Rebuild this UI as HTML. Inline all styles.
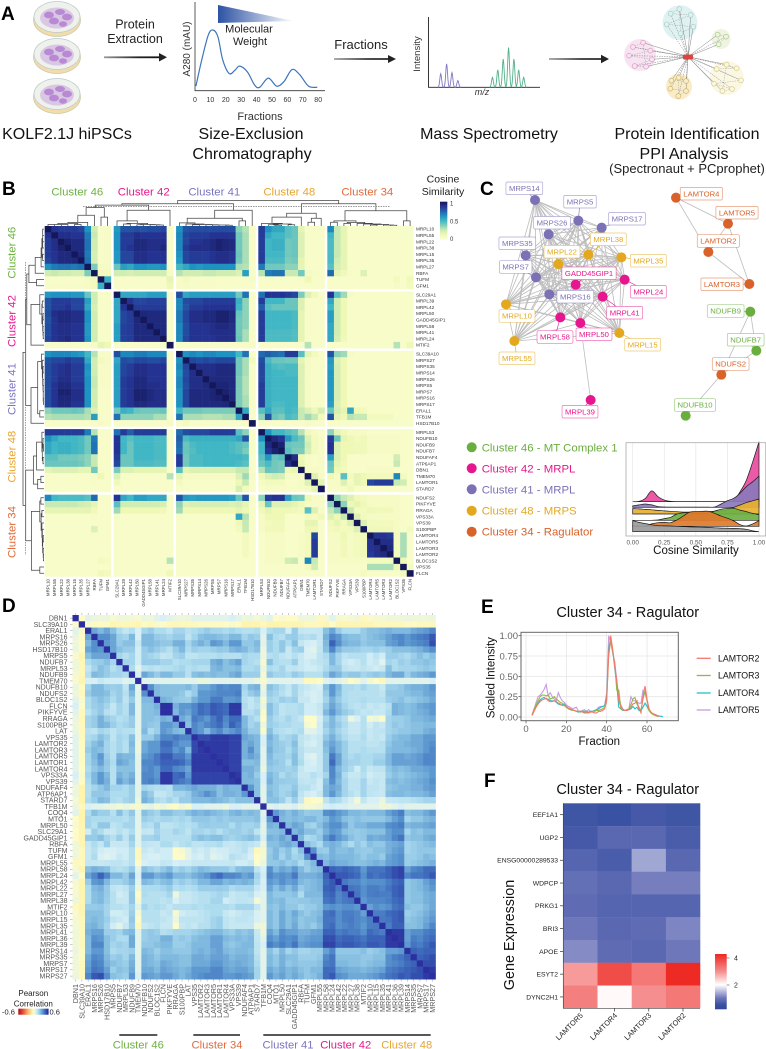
<!DOCTYPE html>
<html lang="en">
<head>
<meta charset="utf-8">
<title>Cluster analysis figure</title>
<style>
html,body{margin:0;padding:0;background:#fff;}
svg{display:block;font-family:"Liberation Sans",sans-serif;}
.panel{font-weight:bold;font-size:19px;fill:#000;}
.step{font-size:16px;fill:#111;text-anchor:middle;}
.note{font-size:12.5px;fill:#222;text-anchor:middle;}
</style>
</head>
<body>
<svg id="figure" xmlns="http://www.w3.org/2000/svg" width="766" height="1049" viewBox="0 0 766 1049">
<defs>
<linearGradient id="mwGrad" x1="0" x2="1" y1="0" y2="0"><stop offset="0" stop-color="#2c52a3"/><stop offset="1" stop-color="#2c52a3" stop-opacity="0"/></linearGradient>
<linearGradient id="arrowGrad" x1="0" x2="1" y1="0" y2="0"><stop offset="0" stop-color="#999"/><stop offset=".6" stop-color="#222"/><stop offset="1" stop-color="#111"/></linearGradient>
<g id="dish">
<ellipse cx="0" cy="2" rx="23.5" ry="16.5" fill="#f2ddaa" stroke="#c9c7a8" stroke-width=".7"/>
<ellipse cx="0" cy="-1" rx="23" ry="15.5" fill="#eef1ec" stroke="#bcc9cc" stroke-width=".7"/>
<ellipse cx="0" cy="0" rx="17" ry="10.5" fill="#c9a5dc" opacity=".55"/>
<ellipse cx="-8" cy="-3" rx="5" ry="3.4" fill="#b98ad3"/><ellipse cx="3" cy="-6" rx="5" ry="3" fill="#b98ad3"/><ellipse cx="10" cy="-1" rx="5" ry="3.4" fill="#b98ad3"/><ellipse cx="-3" cy="3" rx="5" ry="3.4" fill="#b98ad3"/><ellipse cx="6" cy="6" rx="4" ry="2.8" fill="#b98ad3"/>
</g>
</defs>

<g>
<text class="panel" x="1" y="20">A</text>
<use href="#dish" x="57" y="18"/>
<use href="#dish" x="57" y="55"/>
<use href="#dish" x="57" y="95"/>
<text class="note" x="135" y="28.5">Protein</text>
<text class="note" x="135" y="43">Extraction</text>
<rect x="104" y="56.4" width="58" height="1.8" fill="url(#arrowGrad)"/>
<polygon points="159,53 167,57.3 159,61.5" fill="#222"/>
<text class="step" x="67" y="139">KOLF2.1J hiPSCs</text>
<text class="step" x="251" y="139">Size-Exclusion</text>
<text class="step" x="252" y="159">Chromatography</text>
<text class="step" x="489" y="139">Mass Spectrometry</text>
<text class="step" x="687" y="139">Protein Identification</text>
<text class="step" x="684" y="159">PPI Analysis</text>
<text class="note" x="687" y="173" style="font-size:13px">(Spectronaut + PCprophet)</text>
<polygon points="218,5 218,23 294,21" fill="url(#mwGrad)"/>
<text class="note" x="249" y="32.5" style="font-size:11px">Molecular</text>
<text class="note" x="250" y="45" style="font-size:11px">Weight</text>
<text class="note" x="361" y="49" style="font-size:13px">Fractions</text>
<rect x="334" y="58.2" width="56" height="1.6" fill="url(#arrowGrad)"/>
<polygon points="388,55 396,59 388,63" fill="#222"/>
<rect x="549" y="58.2" width="54" height="1.6" fill="url(#arrowGrad)"/>
<polygon points="601,54.8 609,59 601,63.2" fill="#222"/>
<g id="chrom"></g>
<g id="ms"></g>
<g id="ppiSketch"></g>
</g>

<g id="panelB">
<text class="panel" x="2" y="195">B</text>
</g>
<g id="panelC">
<text class="panel" x="480" y="195">C</text>
</g>
<g id="ridge"></g>
<g id="panelD">
<text class="panel" x="2" y="612">D</text>
</g>
<g id="panelE">
<text class="panel" x="481" y="613">E</text>
</g>
<g id="panelF">
<text class="panel" x="484" y="787">F</text>
</g>
</svg>

<script>
/* ---------- chart data ---------- */
const chromFractions=[0.6,4.4,8.6,11.7,14.9,18,22.2,26,29,34,38.7,42,47.6,53,57.8,63,68,73.7,79.4];
const chromIntensity=[2,48,91,100,88,48,24,30,37,27,4,0,16,2,10,31,22,2,0];
const chromTicks=[0,10,20,30,40,50,60,70,80];
const msPurpleMz=[11,16.3,21.1,26.4];
const msPurpleHeight=[34,59,37,17];
const msGreenMz=[57.5,62.3,67.2,72,76.8,81.1,85.6];
const msGreenHeight=[25,44,71,100,71,44,25];

const bGroupSizes=[10,9,12,10,13];
const bGroupNames=['Cluster 46','Cluster 42','Cluster 41','Cluster 48','Cluster 34'];
const bLabels=['MRPL10','MRPL55','MRPL22','MRPL38','MRPL15','MRPL35','MRPL27','RBFA','TUFM','GFM1',
'SLC29A1','MRPL39','MRPL42','MRPL50','GADD45GIP1','MRPL58','MRPL41','MRPL24','MTIF2',
'SLC39A10','MRPS27','MRPS35','MRPS14','MRPS26','MRPS5','MRPS7','MRPS16','MRPS17','ERAL1','TFB1M','HSD17B10',
'MRPL53','NDUFB10','NDUFB9','NDUFB7','NDUFAF4','ATP6AP1','DBN1','TMEM70','LAMTOR1','STARD7',
'NDUFS2','PIKFYVE','RRAGA','VPS33A','VPS39','S100PBP','LAMTOR4','LAMTOR5','LAMTOR3','LAMTOR2','BLOC1S2','VPS35','FLCN'];
/* cosine similarity x100, lower triangle (matrix is symmetric) */
const bCosine=[
[100],
[88,100],
[85,90,100],
[85,90,95,100],
[85,88,92,92,100],
[82,88,92,92,93,100],
[62,68,70,70,68,70,100],
[22,25,22,22,20,20,38,100],
[3,3,3,3,3,3,5,8,100],
[4,4,4,4,4,4,5,8,52,100],
[60,62,62,62,60,60,42,22,3,3,100],
[78,85,85,85,82,82,58,22,3,3,55,100],
[78,85,85,88,82,82,55,20,3,3,55,88,100],
[80,90,92,92,90,90,62,22,3,3,55,82,85,100],
[78,88,92,92,90,90,62,22,3,3,55,82,85,93,100],
[80,88,90,90,88,88,60,22,3,3,58,84,85,92,92,100],
[80,88,90,90,88,88,60,22,3,3,58,84,85,92,92,92,100],
[82,88,90,92,88,88,62,22,3,3,58,84,85,92,92,92,92,100],
[3,3,3,3,3,3,3,5,15,12,3,3,3,3,3,3,3,3,100],
[62,65,65,65,62,60,50,28,4,4,80,65,65,68,68,65,65,65,3,100],
[78,82,82,85,82,82,55,22,8,5,55,80,78,82,82,80,80,82,3,62,100],
[80,85,88,90,85,85,62,22,4,4,58,82,85,90,90,88,88,88,3,65,82,100],
[80,85,88,90,85,85,60,22,4,4,58,82,85,90,90,88,88,88,3,62,80,90,100],
[80,85,90,90,85,85,62,25,4,4,58,85,88,92,92,88,88,88,3,65,82,90,90,100],
[80,88,92,92,88,88,62,25,4,4,58,85,88,92,92,90,90,88,3,65,80,90,90,92,100],
[80,88,95,95,90,90,62,22,3,3,58,85,88,95,95,92,90,90,3,62,82,92,92,92,94,100],
[80,88,93,93,90,90,62,22,3,3,58,85,88,95,95,92,90,90,3,62,82,92,92,92,94,95,100],
[80,88,92,92,88,88,62,22,3,3,58,85,88,92,92,90,90,90,3,62,82,92,92,92,92,92,93,100],
[35,40,40,40,42,40,30,18,3,3,40,52,50,42,40,40,40,42,3,50,40,40,40,38,38,38,38,38,100],
[28,30,30,30,30,30,28,58,3,3,70,35,35,35,35,35,30,30,4,70,30,30,30,28,28,28,30,30,55,100],
[3,3,3,3,3,3,3,3,5,3,3,3,3,3,3,3,3,3,5,3,8,3,3,3,3,3,3,3,3,3,100],
[85,85,85,85,85,85,68,28,3,3,70,85,75,85,85,85,85,85,3,72,80,82,82,82,85,85,85,85,45,35,3,100],
[62,55,50,50,50,48,40,68,3,3,88,50,45,50,50,50,48,48,3,75,48,52,52,52,52,52,52,52,55,78,3,62,100],
[55,50,52,52,50,48,40,70,3,3,88,50,42,50,50,50,48,48,3,72,42,48,50,50,50,50,50,48,45,42,3,50,92,100],
[55,50,52,52,50,48,40,70,3,3,88,50,42,50,50,50,48,48,3,70,42,46,50,50,50,50,50,48,45,38,3,50,88,95,100],
[45,45,40,40,40,38,35,25,3,3,85,42,42,50,50,50,48,48,3,85,40,48,48,50,50,50,50,50,50,48,3,45,60,42,45,100],
[42,42,42,42,42,40,35,25,3,3,82,42,42,48,48,48,46,46,3,85,40,48,48,50,50,50,50,50,48,45,3,42,48,40,38,90,100],
[15,18,18,18,18,15,15,40,4,3,38,18,18,15,15,15,15,15,3,45,15,18,18,18,18,18,18,18,25,25,3,28,42,40,38,12,14,100],
[3,3,3,3,3,3,3,5,12,3,18,3,3,3,3,3,3,3,28,15,5,5,5,5,5,5,5,5,18,32,5,10,18,22,20,5,5,5,100],
[3,3,3,3,3,3,3,4,3,3,10,3,3,3,3,3,3,3,3,8,3,3,3,3,3,3,3,3,12,25,3,6,8,8,8,3,3,6,18,100],
[3,3,3,3,3,3,3,3,3,3,3,3,3,3,3,3,3,3,3,3,3,3,3,3,3,3,3,3,20,8,3,3,4,4,4,4,4,4,5,15,100],
[65,50,48,48,48,48,45,72,3,3,88,55,50,58,58,55,55,55,3,78,60,58,60,60,60,60,60,58,42,78,3,35,85,88,88,58,42,40,12,4,4,100],
[25,25,25,25,25,22,20,15,3,3,45,22,22,22,22,22,22,20,3,35,18,20,20,20,20,20,20,18,20,15,3,15,42,18,18,18,15,12,5,4,4,35,100],
[15,15,15,15,15,15,15,10,3,3,32,12,12,12,12,12,12,10,3,32,12,12,12,12,12,12,12,12,15,12,3,10,15,12,12,12,10,8,45,18,5,25,35,100],
[3,3,3,3,3,3,3,4,3,3,5,3,3,3,3,3,3,3,3,5,3,3,3,3,3,3,3,3,55,28,3,6,12,12,12,3,3,3,8,6,10,18,12,25,100],
[3,3,3,3,3,3,3,3,3,3,3,3,3,3,3,3,3,3,3,3,3,3,3,3,3,3,3,3,12,25,3,5,8,10,10,3,3,3,15,15,3,10,15,8,18,100],
[3,3,3,3,3,3,3,18,3,3,3,3,3,3,3,3,3,3,3,3,3,3,3,3,3,3,3,3,8,25,3,5,10,10,10,3,3,3,12,12,3,8,10,8,8,18,100],
[3,3,3,3,3,3,3,3,3,3,3,3,3,3,3,3,3,3,3,3,3,3,3,3,3,3,3,3,3,8,3,3,5,5,5,3,3,5,8,82,3,5,5,12,5,8,10,100],
[3,3,3,3,3,3,3,3,3,3,3,3,3,3,3,3,3,3,3,3,3,3,3,3,3,3,3,3,3,8,3,3,5,5,5,3,3,5,8,85,3,5,5,10,5,8,10,88,100],
[3,3,3,3,3,3,3,3,3,3,3,3,3,3,3,3,3,3,3,3,3,3,3,3,3,3,3,3,3,8,3,3,5,5,5,3,3,5,8,85,3,5,5,10,5,8,10,88,90,100],
[3,3,3,3,3,3,3,3,3,3,3,3,3,3,3,3,3,3,3,3,3,3,3,3,3,3,3,3,3,8,3,3,5,5,5,3,3,5,8,85,3,5,5,10,5,8,10,86,90,92,100],
[3,3,3,3,3,3,3,3,8,5,3,3,3,3,3,3,3,3,28,3,3,3,3,3,3,3,3,3,3,3,3,3,5,5,5,22,25,3,65,25,3,5,5,5,5,5,5,8,8,8,8,100],
[3,3,3,3,3,3,3,3,3,3,3,3,3,3,3,3,3,3,3,3,3,3,3,3,3,3,3,3,3,3,3,3,3,3,3,3,3,3,8,22,3,3,3,3,3,3,3,30,30,30,30,12,100],
[3,3,3,3,3,3,3,3,10,8,3,3,3,3,3,3,3,3,12,3,3,3,3,3,3,3,3,3,3,3,3,3,3,3,3,3,3,3,3,3,3,3,3,3,3,3,8,3,3,3,3,3,8,100]
];
/* merge heights of the hierarchical clustering: [height, left, right] */
const bTree46=[.72,[.42,[.14,[.1,[.06,[.06,0,1],[.06,2,3]],[.06,4,5]],6],7],[.35,8,9]];
const bTree42=[.62,[.2,10,[.1,[.08,11,12],[.06,[.05,13,14],[.05,15,[.04,16,17]]]]],18];
const bTree41=[.62,[.3,[.12,19,[.08,20,[.06,[.05,21,22],[.05,23,[.04,24,[.04,25,[.03,26,27]]]]]]],[.2,28,29]],30];
const bTree48=[.5,[.35,[.1,31,[.08,[.05,32,[.03,33,34]],[.05,35,36]]],37],[.3,[.15,38,39],40]];
const bTree34=[.6,[.2,[.15,41,42],[.14,[.1,43,44],[.1,45,[.08,46,[.06,[.04,47,48],[.04,49,[.03,50,51]]]]]]],[.2,52,53]];
const bRootTree=[1,[.87,[.82,bTree46,bTree42],bTree41],[.87,bTree48,bTree34]];
const bColorbarTicks=[0,0.5,1];

const ridgeX=[0,.05,.1,.15,.2,.25,.3,.35,.4,.45,.5,.55,.6,.65,.7,.75,.8,.85,.9,.95,1];
const ridgeC42=[0,.1,1.1,3.6,1.7,.55,.1,.03,.03,.03,.03,.03,.03,.03,.03,.05,.3,3.3,7.2,13.3,20];
const ridgeC41=[.45,.8,1.1,.8,.25,.1,.05,.05,.05,.05,.05,.05,.05,.1,1.1,2.2,3,4.7,6.9,8.5,10.4];
const ridgeC48=[1.8,1.7,1.55,1.4,1.2,1.05,.9,.75,.65,.65,.65,.7,.8,.9,1,1.3,2.2,3,3.8,4.4,5];
const ridgeC46=[0,0,0,0,.1,.55,1,2.1,2.5,2.5,2.3,2.2,2.5,3.1,3.7,4,4,3.4,2.9,2.3,1.9];
const ridgeC34=[.1,.1,.1,.8,1.2,1.3,1.2,2.1,3.4,4.7,4.9,5,5,4.3,3.4,2.7,1.8,.55,.1,.8,1.9];
const ridgeOther=[3.7,3.1,2.7,2.3,2,1.95,1.9,1.8,1.7,1.6,1.55,1.5,1.45,1.3,1.2,1.15,1.1,1,.8,.3,0];
const ridgeTicks=[0,.25,.5,.75,1];
const ridgeTickLabels=['0.00','0.25','0.50','0.75','1.00'];

const dLabels=['DBN1','SLC39A10','ERAL1','MRPS16','MRPS26','HSD17B10','MRPS5','NDUFB7','MRPL53','NDUFB9','TMEM70','NDUFB10','NDUFS2','BLOC1S2','FLCN','PIKFYVE','RRAGA','S100PBP','LAT','VPS35','LAMTOR2','LAMTOR3','LAMTOR5','LAMTOR1','LAMTOR4','VPS33A','VPS39','NDUFAF4','ATP6AP1','STARD7','TFB1M','COQ4','MTO1','MRPL50','SLC29A1','GADD45GIP1','RBFA','TUFM','GFM1','MRPL55','MRPL58','MRPL24','MRPL42','MRPL22','MRPL27','MRPL38','MTIF2','MRPL10','MRPL15','MRPL35','MRPL41','MRPL36','MRPL39','MRPS14','MRPS35','MRPS7','MRPS17','MRPS27'];
/* Pearson correlation x100, lower triangle */
const dPearson=[
[60],
[2,60],
[8,3,60],
[6,1,35,60],
[5,1,30,40,60],
[6,1,35,40,38,60],
[3,-2,28,35,35,35,60],
[5,-1,20,24,25,28,22,60],
[5,-1,15,22,28,25,18,22,60],
[4,-1,18,30,28,25,22,22,20,60],
[3,-2,10,10,14,12,12,12,8,10,60],
[6,1,22,30,30,25,24,25,16,35,8,60],
[5,0,25,30,30,28,22,25,18,30,8,40,60],
[8,3,20,25,28,25,20,25,16,25,8,30,30,60],
[10,2,20,24,26,22,15,22,18,30,8,28,28,32,60],
[8,0,16,22,26,18,16,22,18,30,8,28,28,30,60,60],
[6,-1,22,25,32,25,22,18,20,25,8,28,28,26,32,30,60],
[5,0,22,25,32,30,24,20,22,25,8,28,26,25,38,38,34,60],
[6,0,18,16,22,20,16,20,18,18,8,30,20,24,38,35,30,28,60],
[8,0,20,22,28,24,16,22,20,28,8,25,25,32,42,42,45,42,42,60],
[8,1,22,28,32,22,18,22,18,30,6,34,38,38,48,48,42,38,38,55,60],
[8,1,25,30,28,22,18,22,18,28,6,34,38,38,46,46,38,42,30,55,58,60],
[8,1,22,30,38,24,18,32,30,30,8,38,40,45,52,52,45,45,38,58,58,58,60],
[8,1,22,28,36,26,20,35,32,28,8,42,42,45,50,50,50,48,42,58,58,58,58,60],
[8,2,20,26,30,25,18,28,28,28,8,40,42,38,48,48,42,40,35,58,58,58,58,58,60],
[10,3,22,30,38,30,18,32,28,32,8,42,42,38,58,58,48,50,38,56,56,56,56,56,56,60],
[8,1,20,30,38,32,18,36,30,35,8,42,44,40,58,58,48,45,42,56,56,56,56,56,56,58,60],
[5,-3,18,22,26,30,22,22,20,24,8,22,20,18,20,18,30,30,32,35,32,32,32,28,32,30,30,60],
[6,-3,18,26,26,25,20,20,20,24,8,30,25,15,15,18,22,22,25,32,35,40,36,28,32,32,30,38,60],
[4,-3,20,24,30,28,20,18,22,24,6,32,28,20,18,22,18,25,25,30,30,30,32,30,28,25,28,28,28,60],
[6,0,10,8,8,6,6,4,6,4,3,6,8,4,6,3,2,5,3,10,10,8,8,8,6,10,10,8,8,8,60],
[8,-3,20,28,24,24,18,28,20,26,8,28,25,22,28,28,25,24,28,32,30,32,30,28,26,30,32,28,30,28,8,60],
[2,-3,22,20,20,20,20,20,18,22,8,24,22,20,22,22,20,22,20,26,26,26,24,26,24,26,26,26,26,28,10,38,60],
[3,-2,22,18,26,26,16,18,22,22,8,20,18,24,16,16,18,20,18,20,24,25,24,24,24,20,25,22,22,24,8,32,30,60],
[2,-2,12,24,20,14,14,18,15,20,8,15,14,22,18,18,22,20,16,22,22,20,22,18,22,24,24,22,24,16,8,28,28,30,60],
[2,-2,25,25,28,22,18,24,16,25,8,22,22,24,18,18,18,18,18,25,28,26,28,28,24,22,24,26,28,24,10,32,30,35,30,60],
[5,-2,15,20,15,24,14,14,14,22,8,16,15,14,20,20,15,18,20,16,16,18,18,20,15,14,16,18,16,14,6,28,28,32,34,30,60],
[5,0,14,18,12,10,10,12,12,18,0,14,12,14,12,12,2,4,8,14,12,14,10,12,12,14,15,18,12,0,4,25,30,24,28,20,28,60],
[5,0,14,20,10,8,10,14,12,18,0,12,10,10,12,12,2,2,8,12,10,14,8,10,12,18,16,14,10,2,4,26,30,22,28,22,24,40,60],
[0,0,15,15,14,15,16,16,14,18,2,10,12,12,15,14,10,12,12,14,14,14,14,14,14,15,12,12,14,2,6,26,26,28,24,26,20,25,30,60],
[4,-2,28,32,30,28,20,18,20,25,8,28,25,22,26,30,22,25,22,26,30,28,26,26,26,22,28,30,30,16,10,40,30,35,32,38,30,24,28,30,60],
[8,2,35,42,50,42,30,30,25,35,10,38,38,32,35,38,30,30,28,32,35,38,45,48,42,42,40,35,38,22,12,42,38,40,38,45,32,32,32,35,50,60],
[4,-2,25,38,40,30,22,22,25,30,8,30,28,25,28,30,22,25,22,25,30,30,35,35,30,32,30,32,30,20,10,38,35,40,36,38,30,28,30,32,48,52,60],
[3,-2,20,30,32,25,16,14,16,24,6,20,20,20,22,25,18,20,18,20,24,24,24,25,24,20,22,22,22,14,10,35,28,34,28,34,25,28,30,32,50,52,45,60],
[4,-2,20,28,30,25,18,12,14,26,2,20,18,18,18,22,6,14,14,16,18,18,20,22,20,14,16,16,18,10,8,30,26,26,26,28,20,30,30,30,48,50,42,46,60],
[5,-2,20,28,30,24,18,14,14,26,4,18,18,18,16,18,10,14,14,16,18,18,22,22,12,14,16,16,15,4,8,30,28,30,25,25,26,26,28,28,46,48,42,45,46,60],
[0,-2,25,25,26,22,18,18,16,22,8,22,18,20,18,15,18,18,18,20,18,20,20,20,20,18,22,22,22,15,8,28,26,30,26,26,22,25,25,28,38,40,38,40,40,38,60],
[3,-2,28,28,28,22,12,12,14,24,4,18,18,18,14,16,4,12,14,14,16,18,20,20,14,12,14,16,16,10,8,30,26,34,28,34,28,25,28,30,46,48,40,44,44,42,36,60],
[4,0,28,30,28,24,16,14,12,26,2,18,18,18,16,14,6,16,16,16,16,18,22,24,16,14,16,16,15,10,8,30,26,34,28,32,26,28,28,32,46,46,40,44,45,42,40,44,60],
[4,0,30,32,28,22,12,8,14,24,0,14,16,18,14,14,2,14,16,14,18,18,22,24,16,14,14,14,14,6,5,30,26,34,28,34,26,28,25,30,46,48,40,42,44,42,38,44,45,60],
[5,0,32,36,36,24,24,22,28,30,8,24,26,24,18,20,22,22,22,24,26,28,30,30,26,24,28,26,28,14,6,36,30,40,36,36,32,32,35,36,50,50,44,46,44,44,40,48,46,44,60],
[5,0,30,40,38,28,24,20,20,34,8,24,26,26,32,32,24,26,24,28,30,30,36,36,30,28,30,28,30,15,8,40,36,42,40,42,34,36,38,38,54,54,48,50,50,48,46,50,50,50,58,60],
[5,0,30,42,42,28,22,24,22,34,8,26,26,28,30,30,24,24,26,30,30,30,36,36,28,26,28,30,30,16,10,44,40,44,40,46,36,38,40,40,56,56,50,52,52,50,48,52,52,50,58,58,60],
[6,1,30,38,38,28,20,22,22,24,8,30,28,24,28,28,26,26,26,30,32,30,34,36,30,28,30,30,28,16,8,28,22,30,22,26,22,22,24,24,36,42,26,26,26,26,28,24,26,28,36,36,38,60],
[5,1,34,42,40,30,24,26,22,30,8,32,30,26,30,30,30,28,28,34,34,32,36,36,34,30,32,32,30,18,8,30,26,32,28,28,24,24,24,26,42,46,28,28,28,28,26,26,28,28,40,44,46,50,60],
[5,0,36,44,42,32,28,26,24,32,8,32,30,28,34,32,30,28,28,34,34,34,38,38,34,32,34,32,30,20,8,30,26,32,26,28,26,26,26,28,44,46,30,30,28,28,26,28,30,30,40,42,44,48,50,60],
[5,0,38,46,44,36,24,28,26,34,8,34,34,30,36,34,32,30,32,38,38,38,42,42,36,34,36,36,32,22,8,34,30,34,30,32,28,26,30,30,48,48,36,34,32,32,30,32,34,36,44,46,48,50,52,54,60],
[6,0,42,52,54,40,28,26,24,38,10,38,36,34,38,38,34,30,34,38,40,42,42,42,38,38,40,38,36,22,8,38,32,36,30,34,30,26,28,32,48,52,40,38,34,34,34,36,38,42,46,48,52,50,54,54,58,60]
];

const eFractions=[3,4,5,6,7,8,9,10,11,12,13,14,15,16,17,18,19,20,21,22,23,24,25,26,27,28,29,30,31,32,33,34,35,36,37,38,39,40,41,42,43,44,45,46,47,48,49,50,51,52,53,54,55,56,57,58,59,60,61,62,63,64,65,66,67,68];
const eLamtor2=[.02,.07,.12,.16,.19,.21,.22,.23,.20,.19,.19,.20,.19,.17,.16,.14,.14,.12,.11,.10,.09,.08,.07,.07,.07,.06,.05,.05,.05,.06,.06,.05,.05,.07,.07,.08,.10,.20,.80,1.0,.83,.62,.45,.20,.13,.09,.08,.08,.09,.12,.16,.17,.20,.10,.05,.25,.38,.22,.10,.06,.04,.03,.02,.01,null,null];
const eLamtor3=[.02,.09,.15,.20,.25,.27,.27,.26,.27,.22,.23,.25,.22,.20,.18,.17,.15,.12,.10,.09,.08,.08,.07,.07,.06,.07,.07,.06,.06,.06,.07,.07,.08,.08,.09,.10,.12,.22,.75,.95,.80,.65,.33,.33,.10,.09,.08,.09,.10,.15,.22,.24,.16,.12,.08,.22,.32,.20,.08,.05,.03,.02,.01,.01,null,null];
const eLamtor4=[.02,.08,.13,.17,.21,.23,.24,.22,.22,.20,.20,.20,.18,.16,.15,.15,.16,.13,.11,.10,.08,.08,.07,.06,.07,.07,.06,.07,.06,.07,.07,.08,.09,.10,.12,.13,.14,.25,.85,.95,.82,.60,.40,.12,.10,.08,.08,.08,.09,.10,.13,.10,.12,.08,.08,.12,.17,.13,.08,.05,.04,.03,.02,.01,.01,.00];
const eLamtor5=[.03,.10,.18,.25,.27,.30,.34,.40,.26,.30,.25,.22,.20,.30,.24,.20,.18,.15,.13,.12,.10,.11,.12,.07,.07,.08,.09,.07,.09,.07,.07,.08,.09,.12,.13,.13,.14,.30,1.0,.92,.78,.68,.45,.25,.15,.10,.08,.09,.10,.25,.20,.20,.18,.17,.17,.33,.30,.20,.08,.05,.03,.02,.01,null,null,null];
const eXTicks=[0,20,40,60];
const eYTicks=[0,.25,.5,.75,1];
const eYTickLabels=['0.00','0.25','0.50','0.75','1.00'];

const fColumns=['LAMTOR5','LAMTOR4','LAMTOR3','LAMTOR2'];
const fRows=['EEF1A1','UGP2','ENSG00000289533','WDPCP','PRKG1','BRI3','APOE','ESYT2','DYNC2H1'];
const fRowEEF1A1=[.55,.5,.6,.55];
const fRowUGP2=[.6,.8,.8,.65];
const fRowENSG=[.75,.65,1.35,.8];
const fRowWDPCP=[.9,.8,1.05,1.05];
const fRowPRKG1=[.85,.75,.75,.75];
const fRowBRI3=[1.0,.8,.85,1.1];
const fRowAPOE=[1.15,.85,.8,1.0];
const fRowESYT2=[2.9,3.85,3.3,4.3];
const fRowDYNC2H1=[3.2,2.05,3.0,3.3];
const fColorbarTicks=[2,4];

/* ---------- helpers ---------- */
const NS='http://www.w3.org/2000/svg';
const figure=document.getElementById('figure');
function add(tag,parent,attrs,text){
  const e=document.createElementNS(NS,tag);
  for(const k in attrs) e.setAttribute(k,attrs[k]);
  if(text!==undefined) e.textContent=text;
  parent.appendChild(e);
  return e;
}
function hex(c){return [1,3,5].map(i=>parseInt(c.substr(i,2),16));}
function ramp(stops,v){
  if(v<=stops[0][0]) return stops[0][1];
  for(let i=1;i<stops.length;i++){
    if(v<=stops[i][0]){
      const t=(v-stops[i-1][0])/(stops[i][0]-stops[i-1][0]);
      const a=hex(stops[i-1][1]),b=hex(stops[i][1]);
      return 'rgb('+a.map((x,k)=>Math.round(x+(b[k]-x)*t)).join(',')+')';
    }
  }
  return stops[stops.length-1][1];
}
function smooth(p){
  let d='M'+p[0][0]+' '+p[0][1];
  for(let i=0;i<p.length-1;i++){
    const a=p[Math.max(i-1,0)],b=p[i],c=p[i+1],e=p[Math.min(i+2,p.length-1)];
    d+=' C'+(b[0]+(c[0]-a[0])/6)+' '+(b[1]+(c[1]-a[1])/6)+' '+(c[0]-(e[0]-b[0])/6)+' '+(c[1]-(e[1]-b[1])/6)+' '+c[0]+' '+c[1];
  }
  return d;
}

/* ---------- panel A: chromatogram ---------- */
(function(){
  const g=document.getElementById('chrom');
  const x=v=>195+v*1.54, y=v=>87.3-v*.573;
  const axes=add('path',g,{d:'M195 2 V90.7 H325',fill:'none',stroke:'#333','stroke-width':.8});
  
  
  chromTicks.forEach(t=>{
    const l=add('text',g,{x:x(t),y:102,'font-size':7,'text-anchor':'middle',fill:'#333'},String(t));
    
    
  });
  const line=add('path',g,{d:smooth(chromFractions.map((f,i)=>[x(f),y(chromIntensity[i])])),fill:'none',stroke:'#3c74bb','stroke-width':1.2});
  
  
  const xt=add('text',g,{x:260,y:120,'font-size':11,'text-anchor':'middle',fill:'#333'},'Fractions');
  
  
  const yt=add('text',g,{transform:'translate(190,49) rotate(-90)','font-size':10,'text-anchor':'middle',fill:'#333'},'A280 (mAU)');
  
  
})();

/* ---------- panel A: mass spectrum ---------- */
(function(){
  const g=document.getElementById('ms');
  const x=v=>428.5+v*1.112, h=v=>v*.397, base=87.3;
  const axes=add('path',g,{d:'M428.5 17 V87.3 H540',fill:'none',stroke:'#222','stroke-width':.9});
  
  
  function peaks(mz,ht,color,name){
    mz.forEach((m,i)=>{
      let d='';
      for(let k=-3;k<=3;k+=.5){
        d+=(d?'L':'M')+(x(m)+k*.9)+' '+(base-h(ht[i])*Math.exp(-k*k/2));
      }
      const p=add('path',g,{d:d,fill:'none',stroke:color,'stroke-width':.9});
      
      
    });
  }
  peaks(msPurpleMz,msPurpleHeight,'#8377c2','spectrum-peak-purple');
  peaks(msGreenMz,msGreenHeight,'#53b08a','spectrum-peak-green');
  const a=add('text',g,{transform:'translate(420,54) rotate(-90)','font-size':9.5,'text-anchor':'middle',fill:'#333'},'Intensity');
  
  
  const b=add('text',g,{x:482,y:95,'font-size':9,'font-style':'italic','text-anchor':'middle',fill:'#333'},'m/z');
  
  
})();

/* ---------- panel A: network sketch ---------- */
(function(){
  const g=document.getElementById('ppiSketch');
  const blobs=[
    ['#dff2f1',680,22.7,17.5,17.5,'#a5cfc6',[[358,27],[332,41],[392,45],[320,73],[400,80],[362,100]]],
    ['#f8e3f2',640,55,16,16,'#d99fc5',[[249,128],[219,141],[271,152],[207,167],[276,178],[224,198],[258,200]]],
    ['#eef4df',721,39,9.5,10,'#a9c893',[[473,104],[498,110],[476,133]]],
    ['#faf7e2',726.7,78,17,17,'#d8cc88',[[500,194],[530,205],[470,207],[543,241],[462,251],[516,267],[487,273]]],
    ['#f8ecc9',679,86.7,13,13,'#d3b569',[[356,233],[378,243],[334,242],[331,266],[378,273],[355,288]]]
  ];
  const cx=688,cy=56.7;
  blobs.forEach(b=>{
    const e=add('ellipse',g,{cx:b[1],cy:b[2],rx:b[3],ry:b[4],fill:b[0]});
    
    
  });
  blobs.forEach(b=>{
    b[6].forEach((n,i)=>{
      const nx=560+n[0]/3,ny=n[1]/3;
      const l=add('line',g,{x1:cx,y1:cy,x2:nx,y2:ny,stroke:'#777','stroke-width':.45,'stroke-dasharray':i%2?'1.5 1':'none'});
      
      
      const m=b[6][(i+1)%b[6].length];
      const l2=add('line',g,{x1:nx,y1:ny,x2:560+m[0]/3,y2:m[1]/3,stroke:'#888','stroke-width':.35,'stroke-dasharray':'1.5 1'});
      
      
    });
  });
  blobs.forEach(b=>{
    b[6].forEach(n=>{
      const c=add('circle',g,{cx:560+n[0]/3,cy:n[1]/3,r:2.4,fill:b[0],stroke:b[5],'stroke-width':.7});
      
      
    });
  });
  const hub=add('rect',g,{x:683,y:54.5,width:10,height:5,rx:1,fill:'#d9453f'});
  
  
})();

/* ---------- panel B: cosine heat map ---------- */
const YLGNBU=[[0,'#fbfdd0'],[.125,'#eef8b4'],[.25,'#c7e9b4'],[.375,'#7fcdbb'],[.5,'#41b6c4'],[.625,'#1d91c0'],[.75,'#225ea8'],[.875,'#253494'],[1,'#14185a']];
(function(){
  const g=document.getElementById('panelB');
  const cw=6.62,ch=6.29,gapX=2.8,gapY=2.7,x0=44.7,y0=226;
  const groupOf=[];
  bGroupSizes.forEach((n,gi)=>{for(let i=0;i<n;i++) groupOf.push(gi);});
  const colX=i=>x0+i*cw+groupOf[i]*gapX;
  const rowY=i=>y0+i*ch+groupOf[i]*gapY;
  const val=(r,c)=>{const a=Math.max(r,c),b=Math.min(r,c);return bCosine[a][b]??0;};
  const n=bLabels.length;
  for(let r=0;r<n;r++){
    for(let c=0;c<n;c++){
      const cell=add('rect',g,{x:colX(c).toFixed(2),y:rowY(r).toFixed(2),width:cw+.25,height:ch+.25,fill:ramp(YLGNBU,val(r,c)/100)});
      
      
    }
    const rl=add('text',g,{x:416,y:rowY(r)+ch/2+1.6,'font-size':4.7,fill:'#333'},bLabels[r]);
    
    
    const cl=add('text',g,{transform:'translate('+(colX(r)+cw/2+1.6)+',579) rotate(-90)','font-size':4.4,'text-anchor':'end',fill:'#333'},bLabels[r]);
    
    
  }
  /* dendrograms from the merge tree */
  function tree(node,toXY,center,out){
    if(typeof node==='number') return {c:center(node),h:0};
    const a=tree(node[1],toXY,center,out),b=tree(node[2],toXY,center,out),h=node[0];
    const p=[toXY(a.c,a.h),toXY(a.c,h),toXY(b.c,h),toXY(b.c,b.h)];
    out.push('M'+p.map(q=>q[0].toFixed(1)+' '+q[1].toFixed(1)).join('L'));
    return {c:(a.c+b.c)/2,h:h};
  }
  const topD=[],leftD=[];
  tree(bRootTree,(c,h)=>[c,226-h*25.5],i=>colX(i)+cw/2,topD);
  tree(bRootTree,(c,h)=>[44-h*21,c],i=>rowY(i)+ch/2,leftD);
  const dt=add('path',g,{d:topD.join(''),fill:'none',stroke:'#444','stroke-width':.75});
  
  
  const dl=add('path',g,{d:leftD.join(''),fill:'none',stroke:'#444','stroke-width':.75});
  
  
  const dash1=add('line',g,{x1:83,x2:390,y1:206.5,y2:206.5,stroke:'#777','stroke-width':.7,'stroke-dasharray':'1.5 1'});
  
  
  const dash2=add('line',g,{x1:25.5,x2:25.5,y1:262,y2:555,stroke:'#777','stroke-width':.7,'stroke-dasharray':'1.5 1'});
  
  
  /* cluster headers */
  const colors=['#6db33f','#e8178f','#7a75c0','#e8a52f','#e06b3a'];
  const headX=[77.3,143.7,214.3,289.3,367.3];
  const sideY=[252.7,321,389,456.7,532];
  bGroupNames.forEach((t,i)=>{
    const h=add('text',g,{x:headX[i],y:195.5,'font-size':11.4,'text-anchor':'middle',fill:colors[i]},t);
    
    
    const s=add('text',g,{transform:'translate(15.5,'+sideY[i]+') rotate(-90)','font-size':11.4,'text-anchor':'middle',fill:colors[i]},t);
    
    
  });
  /* colour bar */
  const cbTop=201.7,cbH=37.6;
  for(let i=0;i<38;i++){
    const s=add('rect',g,{x:440,y:cbTop+i*cbH/38,width:7.3,height:cbH/38+.3,fill:ramp(YLGNBU,1-i/37)});
    
    
  }
  bColorbarTicks.forEach(t=>{
    const l=add('text',g,{x:450,y:cbTop+cbH-t*(cbH-2.5)+1.5,'font-size':6,fill:'#333'},String(t));
    
    
  });
  const t1=add('text',g,{x:443,y:182.5,'font-size':10.5,'text-anchor':'middle',fill:'#222'},'Cosine');
  
  
  const t2=add('text',g,{x:443,y:195,'font-size':10.5,'text-anchor':'middle',fill:'#222'},'Similarity');
  
  
})();

/* ---------- panel C: protein network ---------- */
(function(){
  const g=document.getElementById('panelC');
  const P='#7b72b5',Y='#e3a81e',K='#e6178e',O='#d9622a',N='#6aae3f';
  const nodes=[
    ['MRPS14',P,225,60,193,25],['MRPS5',P,355,122,360,65],['MRPS17',P,425,143,501,116],['MRPS26',P,266,163,276,128],['MRPS35',P,197,226,172,190],['MRPS7',P,228,292,167,261],['MRPS16',P,268,343,346,350],
    ['MRPL38',Y,385,224,445,178],['MRPL22',Y,295,252,306,215],['MRPL35',Y,484,232,565,242],['MRPL10',Y,138,373,171,408],['MRPL55',Y,163,483,171,535],['MRPL15',Y,478,459,548,494],
    ['GADD45GIP1',K,347,314,387,280],['MRPL24',K,494,299,565,335],['MRPL41',K,428,350,494,398],['MRPL58',K,301,412,285,471],['MRPL50',K,361,429,402,463],['MRPL39',K,392,660,360,695],
    ['LAMTOR4',O,648,53,724,41],['LAMTOR5',O,804,131,831,98],['LAMTOR2',O,745,216,775,183],['LAMTOR3',O,868,312,786,313],['NDUFS2',O,784,584,812,552],
    ['NDUFB9',N,871,395,797,393],['NDUFB7',N,889,512,857,479],['NDUFB10',N,677,707,705,675]
  ];
  const X=z=>460+z/3,Y0=z=>180+z/3;
  const idx={};
  nodes.forEach((n,i)=>{idx[n[0]]=i;});
  const edges=[];
  for(let a=0;a<18;a++){for(let b=a+1;b<18;b++){edges.push([a,b]);}}
  [['MRPL50','MRPL39'],['LAMTOR4','LAMTOR5'],['LAMTOR4','LAMTOR2'],['LAMTOR5','LAMTOR2'],['LAMTOR5','LAMTOR3'],['LAMTOR2','LAMTOR3'],['NDUFB9','NDUFB7'],['NDUFB9','NDUFS2'],['NDUFB7','NDUFS2'],['NDUFS2','NDUFB10']].forEach(p=>edges.push([idx[p[0]],idx[p[1]]]));
  edges.forEach(e=>{
    const a=nodes[e[0]],b=nodes[e[1]];
    const l=add('line',g,{x1:X(a[2]),y1:Y0(a[3]),x2:X(b[2]),y2:Y0(b[3]),stroke:'#bdbdbd','stroke-width':.8});
    
    
  });
  nodes.forEach(n=>{
    const c=add('circle',g,{cx:X(n[2]),cy:Y0(n[3]),r:5,fill:n[1]});
    
    
  });
  nodes.forEach(n=>{
    const lead=add('line',g,{x1:X(n[2]),y1:Y0(n[3]),x2:X(n[4]),y2:Y0(n[5]),stroke:n[1],'stroke-width':.6});
    
    
    const r=add('rect',g,{rx:1.5,fill:'#fff',stroke:n[1],'stroke-opacity':.6,'stroke-width':.7});
    
    
    const t=add('text',g,{x:X(n[4]),y:Y0(n[5])+2.7,'font-size':7.7,'text-anchor':'middle',fill:n[1]},n[0]);
    
    
    const w=t.getComputedTextLength()+6;
    r.setAttribute('x',X(n[4])-w/2);
    r.setAttribute('y',Y0(n[5])-6.3);
    r.setAttribute('width',w);
    r.setAttribute('height',12.6);
  });
  const legend=[['Cluster 46 - MT Complex 1',N,447.3],['Cluster 42 - MRPL',K,468.3],['Cluster 41 - MRPL',P,489.3],['Cluster 48 - MRPS',Y,510.7],['Cluster 34 - Ragulator',O,531.7]];
  legend.forEach(l=>{
    const d=add('circle',g,{cx:471.7,cy:l[2],r:5,fill:l[1]});
    
    
    const t=add('text',g,{x:481.7,y:l[2]+4,'font-size':11.4,fill:l[1]},l[0]);
    
    
  });
})();

/* ---------- ridge plot ---------- */
(function(){
  const g=document.getElementById('ridge');
  const x=v=>632.7+v*126.3;
  const left=626,right=765.7,top=442.7,bottom=536;
  ridgeTicks.forEach(t=>{
    const l=add('line',g,{x1:x(t),x2:x(t),y1:top,y2:bottom,stroke:'#e6e6e6','stroke-width':.7});
    
    
  });
  const series=[[ridgeC42,'#e84c9f',501.7,'ridge-cluster-42'],[ridgeC41,'#8a78bb',507.3,'ridge-cluster-41'],[ridgeC48,'#e8b030',514,'ridge-cluster-48'],[ridgeC46,'#6cb043',520.3,'ridge-cluster-46'],[ridgeC34,'#e07a2b',526.3,'ridge-cluster-34'],[ridgeOther,'#9a9a9a',531.7,'ridge-other']];
  series.forEach(s=>{
    const pts=ridgeX.map((v,i)=>[x(v),s[2]-s[0][i]*3]);
    let d=smooth(pts)+' L'+x(1)+' '+s[2]+' L'+x(0)+' '+s[2]+' Z';
    const p=add('path',g,{d:d,fill:s[1],'fill-opacity':.92,stroke:'#1a1a1a','stroke-width':.7});
    
    
  });
  const frame=add('rect',g,{x:left,y:top,width:right-left,height:bottom-top,fill:'none',stroke:'#aaa','stroke-width':.8});
  
  
  ridgeTicks.forEach((t,i)=>{
    const l=add('text',g,{x:x(t),y:544.5,'font-size':6.4,'text-anchor':'middle',fill:'#555'},ridgeTickLabels[i]);
    
    
  });
  const title=add('text',g,{x:696,y:554,'font-size':11.5,'text-anchor':'middle',fill:'#111'},'Cosine Similarity');
  
  
})();

/* ---------- panel D: Pearson heat map ---------- */
const RDYLBU=[[-60,'#b5121b'],[-40,'#ea5a3a'],[-20,'#fdc070'],[-4,'#fff2a8'],[2,'#fdfbc8'],[10,'#d8f0f5'],[20,'#aedcef'],[30,'#7fb9df'],[40,'#5590cc'],[50,'#3a62b8'],[60,'#2b2f9f']];
(function(){
  const g=document.getElementById('panelD');
  const x0=72.5,y0=615,cw=6.26,ch=6.28,n=dLabels.length;
  const val=(r,c)=>{const a=Math.max(r,c),b=Math.min(r,c);return dPearson[a][b]??0;};
  for(let r=0;r<n;r++){
    for(let c=0;c<n;c++){
      const cell=add('rect',g,{x:(x0+c*cw).toFixed(2),y:(y0+r*ch).toFixed(2),width:cw+.25,height:ch+.25,fill:ramp(RDYLBU,val(r,c))});
      
      
    }
    const rl=add('text',g,{x:67.5,y:y0+r*ch+ch/2+2.4,'font-size':7,'text-anchor':'end',fill:'#555'},dLabels[r]);
    
    
    const cl=add('text',g,{transform:'translate('+(x0+r*cw+cw/2+2.4)+',984) rotate(-90)','font-size':7.2,'text-anchor':'end',fill:'#555'},dLabels[r]);
    
    
    const t1=add('line',g,{x1:x0+r*cw+cw/2,x2:x0+r*cw+cw/2,y1:613,y2:615,stroke:'#999','stroke-width':.5});
    
    
    const t2=add('line',g,{x1:x0+r*cw+cw/2,x2:x0+r*cw+cw/2,y1:979.3,y2:981.5,stroke:'#999','stroke-width':.5});
    
    
    const t3=add('line',g,{x1:70,x2:72.5,y1:y0+r*ch+ch/2,y2:y0+r*ch+ch/2,stroke:'#999','stroke-width':.5});
    
    
  }
  const a=add('text',g,{x:33.3,y:996,'font-size':8,'text-anchor':'middle',fill:'#222'},'Pearson');
  
  
  const b=add('text',g,{x:33.3,y:1006.5,'font-size':8,'text-anchor':'middle',fill:'#222'},'Correlation');
  
  
  for(let i=0;i<30;i++){
    const s=add('rect',g,{x:18.3+i,y:1008.7,width:1.3,height:6,fill:ramp(RDYLBU,-60+120*i/29)});
    
    
  }
  const lo=add('text',g,{x:2,y:1014.5,'font-size':7.5,fill:'#222'},'-0.6');
  
  
  const hi=add('text',g,{x:49.5,y:1014.5,'font-size':7.5,fill:'#222'},'0.6');
  
  
  const bars=[[119.3,157.3],[193.3,240],[263.3,430.7]];
  bars.forEach(p=>{
    const r=add('rect',g,{x:p[0],y:1034.3,width:p[1]-p[0],height:1.4,fill:'#111'});
    
    
  });
  const names=[['Cluster 46',138.3,'#6db33f'],['Cluster 34',217,'#e06b3a'],['Cluster 41',288,'#7a75c0'],['Cluster 42',345.7,'#e8178f'],['Cluster 48',406.7,'#e8a52f']];
  names.forEach(c=>{
    const t=add('text',g,{x:c[1],y:1048.5,'font-size':11.2,'text-anchor':'middle',fill:c[2]},c[0]);
    
    
  });
})();

/* ---------- panel E: line chart ---------- */
(function(){
  const g=document.getElementById('panelE');
  const x=v=>526+v*2.017,y=v=>717-v*81.3;
  const L=521,R=678.3,T=632.3,B=720.7;
  const ti=add('text',g,{x:627.7,y:617,'font-size':14.6,'text-anchor':'middle',fill:'#111'},'Cluster 34 - Ragulator');
  
  
  [10,30,50,70].forEach(v=>{
    const l=add('line',g,{x1:x(v),x2:x(v),y1:T,y2:B,stroke:'#f2f2f2','stroke-width':.5});
    
    
  });
  eXTicks.forEach(v=>{
    const l=add('line',g,{x1:x(v),x2:x(v),y1:T,y2:B,stroke:'#e6e6e6','stroke-width':.8});
    
    
    const k=add('line',g,{x1:x(v),x2:x(v),y1:B,y2:B+2.5,stroke:'#444','stroke-width':.7});
    
    
    const t=add('text',g,{x:x(v),y:732,'font-size':9.5,'text-anchor':'middle',fill:'#666'},String(v));
    
    
  });
  eYTicks.forEach((v,i)=>{
    const l=add('line',g,{x1:L,x2:R,y1:y(v),y2:y(v),stroke:'#e6e6e6','stroke-width':.8});
    
    
    const k=add('line',g,{x1:L-2.5,x2:L,y1:y(v),y2:y(v),stroke:'#444','stroke-width':.7});
    
    
    const t=add('text',g,{x:518,y:y(v)+3.4,'font-size':9.5,'text-anchor':'end',fill:'#666'},eYTickLabels[i]);
    
    
  });
  const sers=[[eLamtor5,'#c79be0','line-lamtor5'],[eLamtor4,'#1fc0c8','line-lamtor4'],[eLamtor3,'#8fbb3a','line-lamtor3'],[eLamtor2,'#f8766d','line-lamtor2']];
  sers.forEach(s=>{
    let d='';
    eFractions.forEach((f,i)=>{
      if(s[0][i]===null) return;
      d+=(d?'L':'M')+x(f).toFixed(2)+' '+y(s[0][i]).toFixed(2);
    });
    const p=add('path',g,{d:d,fill:'none',stroke:s[1],'stroke-width':1.1});
    
    
  });
  const fr=add('rect',g,{x:L,y:T,width:R-L,height:B-T,fill:'none',stroke:'#666','stroke-width':1});
  
  
  const xt=add('text',g,{x:599.3,y:745,'font-size':11.5,'text-anchor':'middle',fill:'#111'},'Fraction');
  
  
  const yt=add('text',g,{transform:'translate(494.5,677.7) rotate(-90)','font-size':11.5,'text-anchor':'middle',fill:'#111'},'Scaled Intensity');
  
  
  const leg=[['LAMTOR2','#f8766d',658.3],['LAMTOR3','#8fbb3a',675.5],['LAMTOR4','#1fc0c8',693],['LAMTOR5','#c79be0',710]];
  leg.forEach(l=>{
    const s=add('line',g,{x1:696.7,x2:710.7,y1:l[2],y2:l[2],stroke:l[1],'stroke-width':1.3});
    
    
    const t=add('text',g,{x:718,y:l[2]+3.1,'font-size':8.8,fill:'#111'},l[0]);
    
    
  });
})();

/* ---------- panel F: expression heat map ---------- */
const BWR=[[.2,'#34479f'],[.5,'#3a52a3'],[1,'#6f77bb'],[2,'#ffffff'],[3,'#f58f8f'],[4.3,'#ee2a24']];
(function(){
  const g=document.getElementById('panelF');
  const matrix=[fRowEEF1A1,fRowUGP2,fRowENSG,fRowWDPCP,fRowPRKG1,fRowBRI3,fRowAPOE,fRowESYT2,fRowDYNC2H1];
  const x0=563.3,y0=803.3,cw=34.2,ch=22.78;
  const ti=add('text',g,{x:627.7,y:794,'font-size':14.6,'text-anchor':'middle',fill:'#111'},'Cluster 34 - Ragulator');
  
  
  matrix.forEach((row,r)=>{
    row.forEach((v,c)=>{
      const cell=add('rect',g,{x:x0+c*cw,y:y0+r*ch,width:cw+.2,height:ch+.2,fill:ramp(BWR,v)});
      
      
    });
    const t=add('text',g,{x:558,y:y0+r*ch+ch/2+2.4,'font-size':6.8,'text-anchor':'end',fill:'#222'},fRows[r]);
    
    
    const k=add('line',g,{x1:560,x2:563.3,y1:y0+r*ch+ch/2,y2:y0+r*ch+ch/2,stroke:'#333','stroke-width':.7});
    
    
  });
  fColumns.forEach((c,i)=>{
    const cx=x0+i*cw+cw/2;
    const k=add('line',g,{x1:cx,x2:cx,y1:1008.3,y2:1011.5,stroke:'#333','stroke-width':.7});
    
    
    const t=add('text',g,{transform:'translate('+(cx+3)+',1016) rotate(-45)','font-size':7.4,'text-anchor':'end',fill:'#222'},c);
    
    
  });
  const fr=add('path',g,{d:'M563.3 803.3 V1008.3 H700',fill:'none',stroke:'#444','stroke-width':.7});
  
  
  const yt=add('text',g,{transform:'translate(514,935) rotate(-90)','font-size':14.4,'text-anchor':'middle',fill:'#111'},'Gene Expression');
  
  
  /* colour bar */
  const cy=v=>985-(v-2)*13.5;
  for(let i=0;i<55;i++){
    const v=4.3-i*(4.1/54);
    const s=add('rect',g,{x:715,y:954+i,width:11.7,height:1.3,fill:ramp(BWR,v)});
    
    
  }
  fColorbarTicks.forEach(t=>{
    const l=add('text',g,{x:734,y:cy(t)+2.5,'font-size':7,fill:'#222'},String(t));
    
    
    const k=add('line',g,{x1:726.7,x2:729.5,y1:cy(t),y2:cy(t),stroke:'#555','stroke-width':.6});
    
    
  });
})();
</script>
</body>
</html>
